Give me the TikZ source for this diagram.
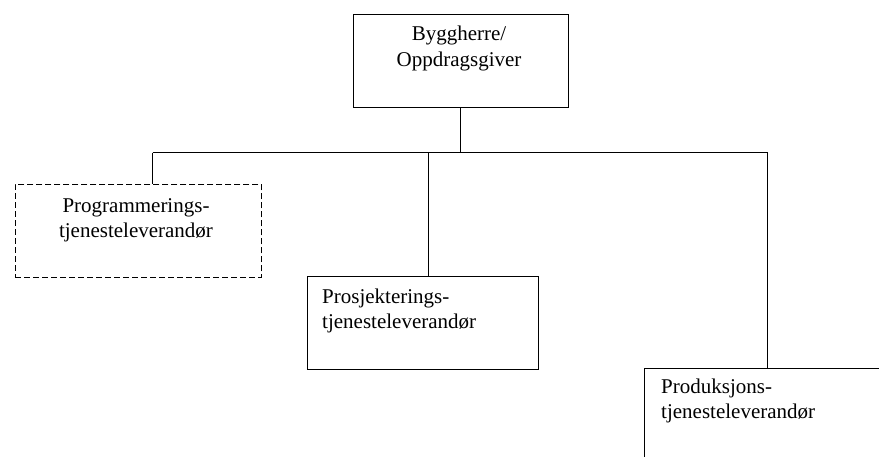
\documentclass[tikz,border=0pt]{standalone}
\usepackage{fontspec}
\setmainfont{Liberation Serif}
\newfontfamily\timesfont{Liberation Serif}
\begin{document}
\begin{tikzpicture}[x=1pt,y=-1pt,
  box/.style={draw=black,line width=1.1pt,rectangle,inner sep=0pt,anchor=north west},
  dbox/.style={box,line width=1.7pt,dash pattern=on 6pt off 3pt},
  lbl/.style={inner sep=0pt,font=\timesfont\fontsize{21}{25.5}\selectfont},
  conn/.style={draw=black,line width=1.1pt}]
\clip (0,0) rectangle (879,456);
% boxes
\node[box,minimum width=215pt,minimum height=93pt] (top) at (352.5,13.5) {};
\node[dbox,minimum width=246pt,minimum height=93pt] (prog) at (14.5,183.5) {};
\node[box,minimum width=231pt,minimum height=93pt] (pros) at (306.5,275.5) {};
\node[box,minimum width=260pt,minimum height=100pt] (prod) at (643.5,367.5) {};
% texts
\node[lbl,anchor=base] (t1) at (459,40) {Byggherre/};
\node[lbl,anchor=base] (t2) at (459,66) {Oppdragsgiver};
\node[lbl,anchor=base] (p1) at (136,212) {Programmerings-};
\node[lbl,anchor=base] (p2) at (136,237) {tjenesteleverandør};
\node[lbl,anchor=base west] (q1) at (322,303) {Prosjekterings-};
\node[lbl,anchor=base west] (q2) at (322,328) {tjenesteleverandør};
\node[lbl,anchor=base west] (r1) at (661,393) {Produksjons-};
\node[lbl,anchor=base west] (r2) at (661,418) {tjenesteleverandør};
% connectors
\coordinate (busL) at (152.5,152.5);
\coordinate (busM) at (428.5,152.5);
\coordinate (busR) at (767.5,152.5);
\coordinate (J) at (top.south |- busL);
\draw[conn] (top.south) -- (J);
\draw[conn] (busL) -- (busR);
\draw[conn] (busL) -- (busL |- prog.north);
\draw[conn] (busM) -- (busM |- pros.north);
\draw[conn] (busR) -- (busR |- prod.north);
\end{tikzpicture}
\end{document}
